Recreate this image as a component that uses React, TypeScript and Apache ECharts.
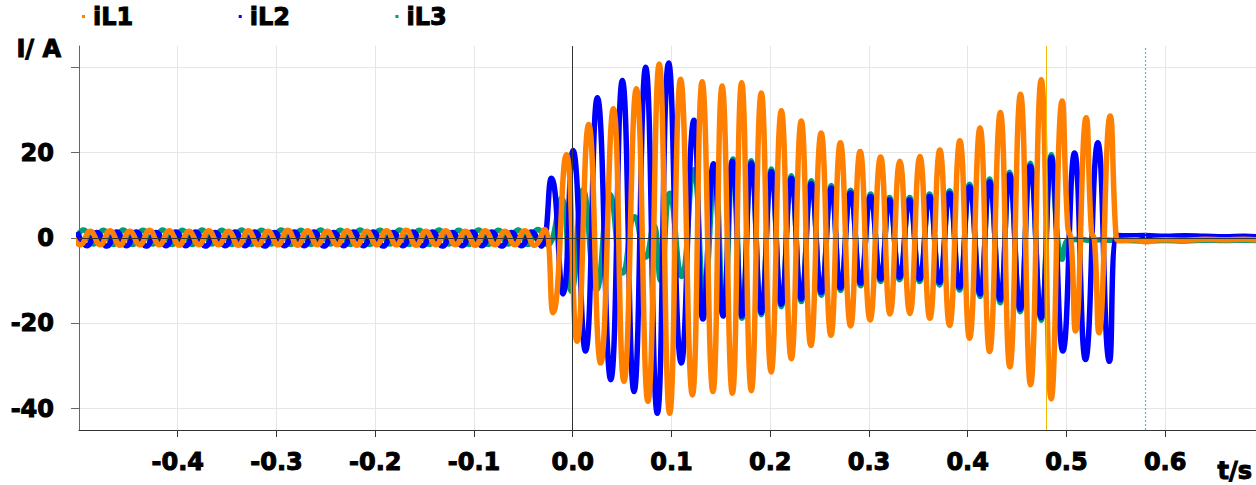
import React, { useEffect, useRef } from "react";
import * as echarts from "echarts";

// ---------- data ----------
const SERIES_NAMES = ["iL1", "iL2", "iL3"];
const COLORS: Record<string, string> = { iL1: "#FF8000", iL2: "#0000FF", iL3: "#009B77" };

const X_TICKS = [-0.4, -0.3, -0.2, -0.1, 0, 0.1, 0.2, 0.3, 0.4, 0.5, 0.6];
const Y_TICKS = [-40, -20, 0, 20, 40];
const Y_LABELS = [-40, -20, 0, 20];

const CURSOR_ZERO = 0;
const CURSOR_A = 0.4848;
const CURSOR_B = 0.582;

// pre-fault extremes, one every half period
const PRE_HALF_PERIOD = 0.01;

const IL1_PRE_START = -0.5086;
const IL1_PRE = [
  1.7, -1.6, 1.6, -1.6, 1.7, -1.7, 1.6, -1.6, 1.8, -1.6,
  1.7, -1.7, 1.6, -1.6, 1.7, -1.6, 1.6, -1.7, 1.7, -1.6,
  1.6, -1.6, 1.8, -1.7, 1.7, -1.6, 1.6, -1.6, 1.7, -1.7,
  1.6, -1.6, 1.7, -1.6, 1.8, -1.7, 1.6, -1.6, 1.7, -1.6,
  1.6, -1.7, 1.7, -1.6, 1.6, -1.6, 1.7, -1.7, 2.0,
];
const IL2_PRE_START = -0.5019;
const IL2_PRE = [
  1.4, -1.8, 1.3, -1.9, 1.4, -1.8, 1.4, -1.9, 1.3, -1.8,
  1.4, -1.8, 1.4, -1.9, 1.3, -1.8, 1.4, -1.8, 1.4, -1.9,
  1.3, -1.8, 1.4, -1.8, 1.4, -1.9, 1.3, -1.8, 1.4, -1.8,
  1.4, -1.9, 1.3, -1.8, 1.4, -1.8, 1.4, -1.9, 1.3, -1.8,
  1.4, -1.8, 1.4, -1.9, 1.3, -1.8, 1.4, -1.9,
];
const IL3_PRE_START = -0.5053;
const IL3_PRE = [
  -1.5, 1.9, -1.4, 1.8, -1.5, 1.9, -1.5, 1.8, -1.4, 1.9,
  -1.5, 1.8, -1.5, 1.9, -1.4, 1.8, -1.5, 1.9, -1.5, 1.8,
  -1.4, 1.9, -1.5, 1.8, -1.5, 1.9, -1.4, 1.8, -1.5, 1.9,
  -1.5, 1.8, -1.4, 1.9, -1.5, 1.8, -1.5, 1.9, -1.4, 1.8,
  -1.5, 1.9, -1.5, 1.8, -1.4, 1.9, -1.5, 2.0, -1.6,
];

// fault extremes [t (s), i (A)]
const IL1_FAULT = [
  [-0.0199, -17.5], [-0.0064, 19.5], [0.0044, -24.2], [0.0162, 26.6], [0.0283, -29.3],
  [0.0412, 30.3], [0.0519, -33.6], [0.0645, 35.0], [0.0762, -38.3], [0.0876, 40.8],
  [0.0982, -41.1], [0.1093, 37.2], [0.1212, -36.8], [0.1311, 36.6], [0.142, -36.0],
  [0.1513, 35.6], [0.1617, -36.4], [0.1711, 36.4], [0.1809, -35.8], [0.191, 34.0],
  [0.201, -31.4], [0.2113, 29.8], [0.2214, -28.3], [0.2315, 27.4], [0.2412, -25.2],
  [0.2516, 24.6], [0.2615, -22.8], [0.2711, 22.3], [0.2814, -20.6], [0.2911, 20.3],
  [0.3012, -19.2], [0.3118, 19.0], [0.3214, -17.8], [0.3313, 18.0], [0.3415, -17.7],
  [0.3516, 19.1], [0.3617, -18.8], [0.3718, 20.6], [0.3817, -20.5], [0.3921, 22.8],
  [0.4019, -23.5], [0.4125, 25.8], [0.4222, -26.6], [0.4331, 29.4], [0.4427, -30.2],
  [0.4535, 33.7], [0.4637, -34.4], [0.4745, 37.1], [0.4846, -37.7], [0.4957, 32.1],
  [0.5014, 2.5], [0.5047, -0.3], [0.5092, -21.8], [0.52, 28.2], [0.5254, 1.5],
  [0.5284, -0.5], [0.533, -22.2], [0.5443, 28.6], [0.5502, 0.5], [0.5527, -0.6],
];
const IL2_FAULT = [
  [-0.0216, 14.0], [-0.0098, -13.1], [0.0003, 20.5], [0.0129, -26.5], [0.025, 32.9],
  [0.0385, -33.2], [0.0503, 36.9], [0.0621, -36.0], [0.0739, 40.0], [0.0857, -41.1],
  [0.0972, 41.0], [0.11, -29.3], [0.1228, 27.6], [0.1319, -19.0], [0.1427, 17.4],
  [0.1522, -18.3], [0.1617, 18.0], [0.1714, -18.3], [0.1809, 17.6], [0.191, -17.5],
  [0.2012, 15.6], [0.2113, -15.5], [0.2214, 14.0], [0.2315, -14.3], [0.2416, 12.8],
  [0.2518, -12.8], [0.2619, 11.7], [0.2713, -11.7], [0.2814, 10.6], [0.2916, -10.6],
  [0.3017, 9.7], [0.3118, -9.6], [0.3209, 8.9], [0.331, -9.2], [0.3412, 8.9],
  [0.3513, -9.6], [0.3614, 9.7], [0.3715, -10.4], [0.3817, 10.5], [0.3918, -11.6],
  [0.4019, 12.0], [0.4127, -13.1], [0.4222, 13.2], [0.433, -14.5], [0.4424, 14.8],
  [0.4532, -16.7], [0.4634, 16.9], [0.4745, -18.7], [0.4846, 18.9], [0.4964, -26.5],
  [0.5082, 19.9], [0.5193, -28.5], [0.5318, 22.3], [0.5436, -28.9], [0.5517, 0.6],
];
const IL3_FAULT = [
  [-0.0116, 9.3], [-0.0013, -12.5], [0.0104, 11.3], [0.024, -12.2], [0.0375, 10.2],
  [0.0509, -8.2], [0.0628, 5.0], [0.0739, -4.5], [0.082, 3.0], [0.0891, -10.0],
  [0.0982, 10.5], [0.1103, -9.0], [0.1225, 16.0], [0.1331, -13.0], [0.1438, 14.5],
  [0.1529, -17.5], [0.1624, 18.5], [0.1714, -18.8], [0.1809, 18.1], [0.191, -18.0],
  [0.2012, 16.2], [0.2113, -16.1], [0.2214, 14.6], [0.2315, -14.9], [0.2416, 13.4],
  [0.2518, -13.4], [0.2619, 12.3], [0.2713, -12.3], [0.2814, 11.2], [0.2916, -11.2],
  [0.3017, 10.3], [0.3118, -10.2], [0.3209, 9.5], [0.331, -9.8], [0.3412, 9.5],
  [0.3513, -10.2], [0.3614, 10.3], [0.3715, -11.0], [0.3817, 11.1], [0.3918, -12.2],
  [0.4019, 12.6], [0.4127, -13.7], [0.4222, 13.8], [0.433, -15.2], [0.4424, 15.4],
  [0.4532, -17.3], [0.4634, 17.5], [0.4745, -19.3], [0.4846, 19.5], [0.491, 0.0],
  [0.4954, -5.0], [0.4995, -1.0], [0.504, -0.5], [0.514, -0.3], [0.524, -0.6],
  [0.534, -0.4], [0.544, -0.5], [0.552, -0.6],
];

// post-fault samples
const IL1_POST = [
  [0.56, -0.5], [0.57, -0.4], [0.58, -0.9], [0.59, -0.5], [0.6, -0.4],
  [0.62, -0.5], [0.64, -0.3], [0.66, -0.4], [0.68, -0.3], [0.692, -0.4],
];
const IL2_POST = [
  [0.56, 0.5], [0.58, 0.6], [0.6, 0.4], [0.62, 0.5], [0.64, 0.4],
  [0.66, 0.3], [0.68, 0.4], [0.692, 0.3],
];
const IL3_POST = [
  [0.56, -0.6], [0.58, -0.7], [0.6, -0.6], [0.62, -0.7], [0.64, -0.5],
  [0.66, -0.6], [0.68, -0.5], [0.692, -0.6],
];

function buildSeries(preStart: number, pre: number[], fault: number[][], post: number[][]) {
  const out: number[][] = pre.map((v, i) => [preStart + i * PRE_HALF_PERIOD, v]);
  return out.concat(fault, post);
}

const FONT = "DejaVu Sans";

export default function App() {
  const ref = useRef<HTMLDivElement>(null);

  useEffect(() => {
    document.body.style.margin = "0";
    if (!ref.current) return;
    const chart = echarts.init(ref.current, undefined, { renderer: "svg" });

    const textBase = {
      fontFamily: FONT,
      fontWeight: "bold" as const,
      fontSize: 24,
      color: "#000",
      textBorderColor: "#000",
      textBorderWidth: 1,
    };

    const lineSeries = (name: string, data: number[][], extra: any = {}) => ({
      name,
      type: "line",
      data,
      showSymbol: false,
      symbol: "none",
      smooth: 0.5,
      lineStyle: { color: COLORS[name], width: 5.5 },
      itemStyle: { color: COLORS[name] },
      ...extra,
    });

    chart.setOption({
      animation: false,
      backgroundColor: "#fff",
      grid: { left: 79, right: 0, top: 46, bottom: 55, containLabel: false },
      legend: {
        data: SERIES_NAMES,
        left: 82,
        top: 4,
        padding: 0,
        icon: "rect",
        itemWidth: 3,
        itemHeight: 3,
        itemGap: 105,
        textStyle: { ...textBase, padding: [0, 0, 0, 3] },
      },
      xAxis: {
        type: "value",
        min: -0.5,
        max: 0.692,
        name: "t/s",
        nameLocation: "end",
        nameGap: 0,
        nameTextStyle: { ...textBase, align: "right", verticalAlign: "top", padding: [29, 4, 0, 0] },
        axisLine: { show: true, onZero: false, lineStyle: { color: "#333", width: 1 } },
        axisTick: { show: true, length: 7, customValues: X_TICKS, lineStyle: { color: "#333" } },
        axisLabel: {
          ...textBase,
          customValues: X_TICKS,
          margin: 20,
          formatter: (v: number) => v.toFixed(1),
        },
        splitLine: { show: true, lineStyle: { color: "#e6e6e6", width: 1 } },
      },
      yAxis: {
        type: "value",
        min: -45,
        max: 45,
        name: "I/ A",
        nameLocation: "end",
        nameGap: -3,
        nameTextStyle: { ...textBase, align: "right", verticalAlign: "middle", padding: [0, 18, 0, 0] },
        axisLine: { show: true, onZero: false, lineStyle: { color: "#666", width: 1 } },
        axisTick: { show: true, length: 8, customValues: Y_TICKS, lineStyle: { color: "#666" } },
        axisLabel: { ...textBase, customValues: Y_LABELS, margin: 25 },
        splitLine: { show: true, lineStyle: { color: "#e6e6e6", width: 1 } },
      },
      series: [
        lineSeries("iL3", buildSeries(IL3_PRE_START, IL3_PRE, IL3_FAULT, IL3_POST)),
        lineSeries("iL2", buildSeries(IL2_PRE_START, IL2_PRE, IL2_FAULT, IL2_POST)),
        lineSeries("iL1", buildSeries(IL1_PRE_START, IL1_PRE, IL1_FAULT, IL1_POST), {
          markLine: {
            silent: true,
            symbol: ["none", "none"],
            label: { show: false },
            animation: false,
            data: [
              { xAxis: CURSOR_ZERO, lineStyle: { color: "#333", width: 1, type: "solid" } },
              { yAxis: 0, lineStyle: { color: "#333", width: 1, type: "solid" } },
              { xAxis: CURSOR_A, lineStyle: { color: "#F5B800", width: 1, type: "solid" } },
              { xAxis: CURSOR_B, lineStyle: { color: "#3FC0E4", width: 1.2, type: [2, 2] } },
            ],
          },
        }),
      ],
    });

    return () => chart.dispose();
  }, []);

  return <div ref={ref} style={{ width: 1256, height: 485 }} />;
}
